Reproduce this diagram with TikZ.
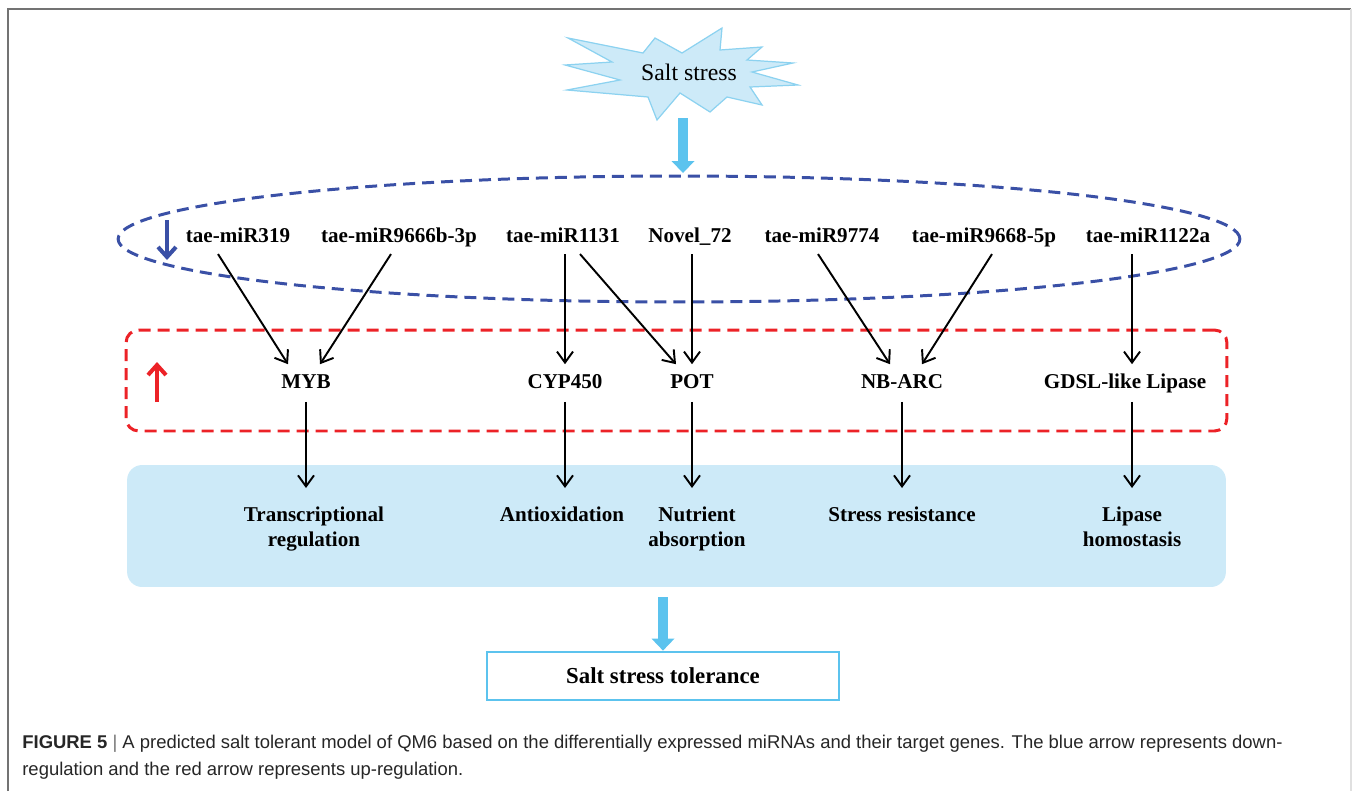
\documentclass[tikz,border=0pt]{standalone}
\usepackage{fontspec}
\setmainfont{Liberation Serif}
\newfontfamily\capfont{Liberation Sans}
\usetikzlibrary{arrows.meta}

\definecolor{saltfill}{HTML}{CDEAF8}
\definecolor{saltedge}{HTML}{8CD2F0}
\definecolor{saltarrow}{HTML}{5CC3EE}
\definecolor{downblue}{HTML}{3A50A6}
\definecolor{upred}{HTML}{EC2227}

\begin{document}
\begin{tikzpicture}[x=0.02cm,y=-0.02cm,
   mir/.style={font=\fontsize{12}{14}\selectfont\bfseries,text height=8.5pt,text depth=2.5pt,inner ysep=4pt},
   gene/.style={font=\fontsize{12}{14}\selectfont\bfseries,text height=8.5pt,text depth=2.5pt,inner ysep=5pt},
   role/.style={font=\fontsize{12}{14.2}\selectfont\bfseries,align=center,anchor=north,inner ysep=10.5pt},
   target/.style={-{Straight Barb[length=0.22cm,width=0.32cm]},line width=1.1pt},
   bigarrow/.style={saltarrow,line width=0.2cm,-{Triangle[length=0.24cm,width=0.46cm,line width=0pt]}},
   regarrow/.style={line width=2.3pt,-{Straight Barb[length=0.2cm,width=0.36cm]}},
   ring/.style={line width=1.7pt,dash pattern=on 0.24cm off 0.14cm}]

   \useasboundingbox (0,0) rectangle (1354,791);
   \draw[black!55,line width=0.9pt] (8,791) -- (8,9) -- (1351,9);
   \draw[black!12,line width=0.6pt] (1351,9) -- (1351,791);

   \filldraw[fill=saltfill,draw=saltedge,line width=0.7pt]
      (568,38) -- (643,53) -- (655,38) -- (682,53) -- (722,28) -- (720,50)
      -- (762,47) -- (747,60) -- (793,63) -- (752,72) -- (798,85) -- (750,87)
      -- (762,105) -- (727,97) -- (710,112) -- (680,93) -- (657,120) -- (648,97)
      -- (567,90) -- (620,80) -- (565,65) -- (612,62) -- cycle;
   \node (salt) at (689,72) {\fontsize{13.5}{16}\selectfont Salt stress};

   \coordinate (saltfoot) at (683,118);
   \coordinate (ringtop) at (683,173);
   \draw[bigarrow] (saltfoot) -- (ringtop);

   \draw[downblue,ring] (679,239) ellipse [x radius=11.22cm,y radius=1.26cm];
   \coordinate (downtop) at (167,220);
   \coordinate (downfoot) at (167,260);
   \draw[downblue,regarrow] (downtop) -- (downfoot);

   \node[mir] (m319) at (238,237) {tae-miR319};
   \node[mir] (m9666) at (399,237) {tae-miR9666b-3p};
   \node[mir] (m1131) at (563,237) {tae-miR1131};
   \node[mir] (n72) at (690,237) {Novel\_72};
   \node[mir] (m9774) at (822,237) {tae-miR9774};
   \node[mir] (m9668) at (984,237) {tae-miR9668-5p};
   \node[mir] (m1122) at (1148,237) {tae-miR1122a};

   \node[draw=upred,ring,rounded corners=0.25cm,minimum width=22.02cm,minimum height=2.02cm] (upbox) at (676.5,380.5) {};
   \coordinate (upfoot) at (157,402);
   \coordinate (uptop) at (157,362);
   \draw[upred,regarrow] (upfoot) -- (uptop);

   \node[fill=saltfill,rounded corners=0.3cm,minimum width=21.98cm,minimum height=2.44cm] (rolebox) at (676.5,526) {};

   \node[gene] (myb) at (306,383) {MYB};
   \node[gene] (cyp) at (565,383) {CYP450};
   \node[gene] (pot) at (692,383) {POT};
   \node[gene] (nbarc) at (902,383) {NB-ARC};
   \node[gene] (gdsl) at (1125,383) {GDSL-like Lipase};

   \node[role] (trans) at (314,488) {Transcriptional\\regulation};
   \node[role] (anti) at (562,488) {Antioxidation};
   \node[role] (nutri) at (697,488) {Nutrient\\absorption};
   \node[role] (stress) at (902,488) {Stress resistance};
   \node[role] (lipase) at (1132,488) {Lipase\\homostasis};

   \path[target] ([xshift=-0.4cm]m319.south) edge ([xshift=-0.36cm]myb.north);
   \path[target] ([xshift=-0.16cm]m9666.south) edge ([xshift=0.28cm]myb.north);
   \path[target] (m1131.south -| cyp.north) edge (cyp.north);
   \path[target] ([xshift=0.34cm]m1131.south) edge ([xshift=-0.32cm]pot.north);
   \path[target] (n72.south -| pot.north) edge (pot.north);
   \path[target] ([xshift=-0.08cm]m9774.south) edge ([xshift=-0.24cm]nbarc.north);
   \path[target] ([xshift=0.16cm]m9668.south) edge ([xshift=0.4cm]nbarc.north);
   \path[target] (m1122.south -| lipase.north) edge (gdsl.north -| lipase.north);

   \path[target] (myb.south) edge (myb.south |- trans.north);
   \path[target] (cyp.south) edge (cyp.south |- anti.north);
   \path[target] (pot.south) edge (pot.south |- nutri.north);
   \path[target] (nbarc.south) edge (stress.north);
   \path[target] (gdsl.south -| lipase.north) edge (lipase.north);

   \node[draw=saltarrow,line width=1.6pt,minimum width=7.04cm,minimum height=0.96cm,
         font=\fontsize{13}{15}\selectfont\bfseries] (tol) at (663,676) {Salt stress tolerance};
   \coordinate (rolefoot) at (663,597);
   \draw[bigarrow] (rolefoot) -- (tol.north);

   \node[anchor=north west,inner sep=0pt,align=left,text=black!85,
         font=\capfont\fontsize{10.5}{15.5}\selectfont] (caption) at (22,735)
      {\textbf{FIGURE 5} {\color{black!55}|} A predicted salt tolerant model of QM6 based on the differentially expressed miRNAs and their target genes. The blue arrow represents down-\\regulation and the red arrow represents up-regulation.};

\end{tikzpicture}
\end{document}
